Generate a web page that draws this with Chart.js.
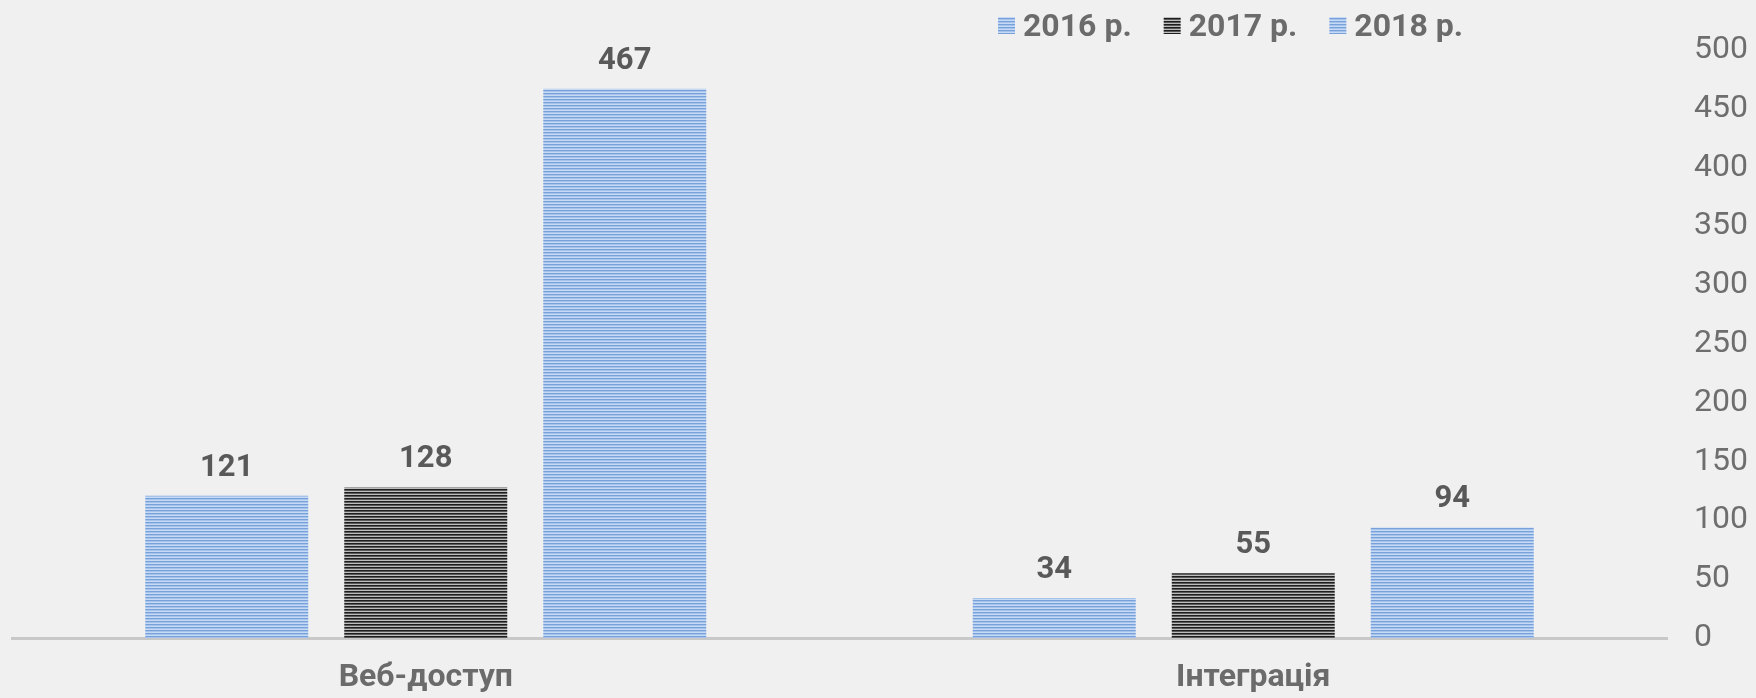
<!DOCTYPE html>
<html>
<head>
<meta charset="utf-8">
<script src="https://cdn.jsdelivr.net/npm/chart.js@4"></script>
<style>
  body { margin: 0; background: #f0f0f0; }
  canvas { display: block; }
</style>
</head>
<body>
<canvas id="chart" width="1756" height="698"></canvas>
<script>
// datos del gráfico
const categories = ['Веб-доступ', 'Інтеграція'];
const seriesNames = ['2016 р.', '2017 р.', '2018 р.'];
const values2016 = [121, 34];
const values2017 = [128, 55];
const values2018 = [467, 94];
const yTicks = [0, 50, 100, 150, 200, 250, 300, 350, 400, 450, 500];

// patrón de rayas horizontales
function stripes(rows) {
  const c = document.createElement('canvas');
  c.width = 4;
  c.height = rows.length;
  const g = c.getContext('2d');
  rows.forEach((col, i) => {
    g.fillStyle = col;
    g.fillRect(0, i, 4, 1);
  });
  return g.createPattern(c, 'repeat');
}
const bluePattern = stripes(['#78a1db', '#a6c3ec', '#c7daf3']);
const darkPattern = stripes(['#1e1e1e', '#5a5a5a', '#bdbdbd']);

// etiquetas de valores sobre las barras
const valueLabels = {
  id: 'valueLabels',
  afterDatasetsDraw(chart) {
    const ctx = chart.ctx;
    ctx.save();
    ctx.font = 'bold 31px Roboto';
    ctx.fillStyle = '#595959';
    ctx.textAlign = 'center';
    ctx.textBaseline = 'alphabetic';
    chart.data.datasets.forEach((ds, i) => {
      chart.getDatasetMeta(i).data.forEach((bar, j) => {
        ctx.fillText(ds.data[j], bar.x, bar.y - 20);
      });
    });
    ctx.restore();
  }
};

// leyenda dibujada a mano
const topLegend = {
  id: 'topLegend',
  afterDraw(chart) {
    const ctx = chart.ctx;
    ctx.save();
    ctx.font = 'bold 32px Roboto';
    ctx.textBaseline = 'middle';
    let x = 998;
    chart.data.datasets.forEach(ds => {
      ctx.fillStyle = ds.backgroundColor;
      ctx.fillRect(x, 17, 17, 17);
      ctx.fillStyle = '#6b6b6b';
      ctx.fillText(ds.label, x + 25, 28);
      x += 25 + ctx.measureText(ds.label).width + 32;
    });
    ctx.restore();
  }
};

new Chart(document.getElementById('chart'), {
  type: 'bar',
  data: {
    labels: categories,
    datasets: [
      { label: seriesNames[0], data: values2016, backgroundColor: bluePattern },
      { label: seriesNames[1], data: values2017, backgroundColor: darkPattern },
      { label: seriesNames[2], data: values2018, backgroundColor: bluePattern }
    ]
  },
  options: {
    responsive: false,
    animation: false,
    categoryPercentage: 0.7215,
    barPercentage: 0.819,
    layout: { padding: { left: 12, right: 0, top: 50, bottom: 0 } },
    plugins: {
      legend: { display: false },
      tooltip: { enabled: false }
    },
    scales: {
      x: {
        afterFit(axis) { axis.height = 60; },
        grid: { display: false },
        border: { display: true, color: '#c8c8c8', width: 3 },
        ticks: {
          color: '#6b6b6b',
          font: { family: 'Roboto', size: 32, weight: 'bold' },
          padding: 13
        }
      },
      y: {
        position: 'right',
        min: 0,
        max: 500,
        afterBuildTicks(axis) {
          axis.ticks = yTicks.map(v => ({ value: v }));
        },
        afterFit(axis) { axis.width = 89; },
        grid: { display: false },
        border: { display: false },
        ticks: {
          color: '#6e6e6e',
          font: { family: 'Roboto', size: 32 },
          padding: 19
        }
      }
    }
  },
  plugins: [valueLabels, topLegend]
});
</script>
</body>
</html>
